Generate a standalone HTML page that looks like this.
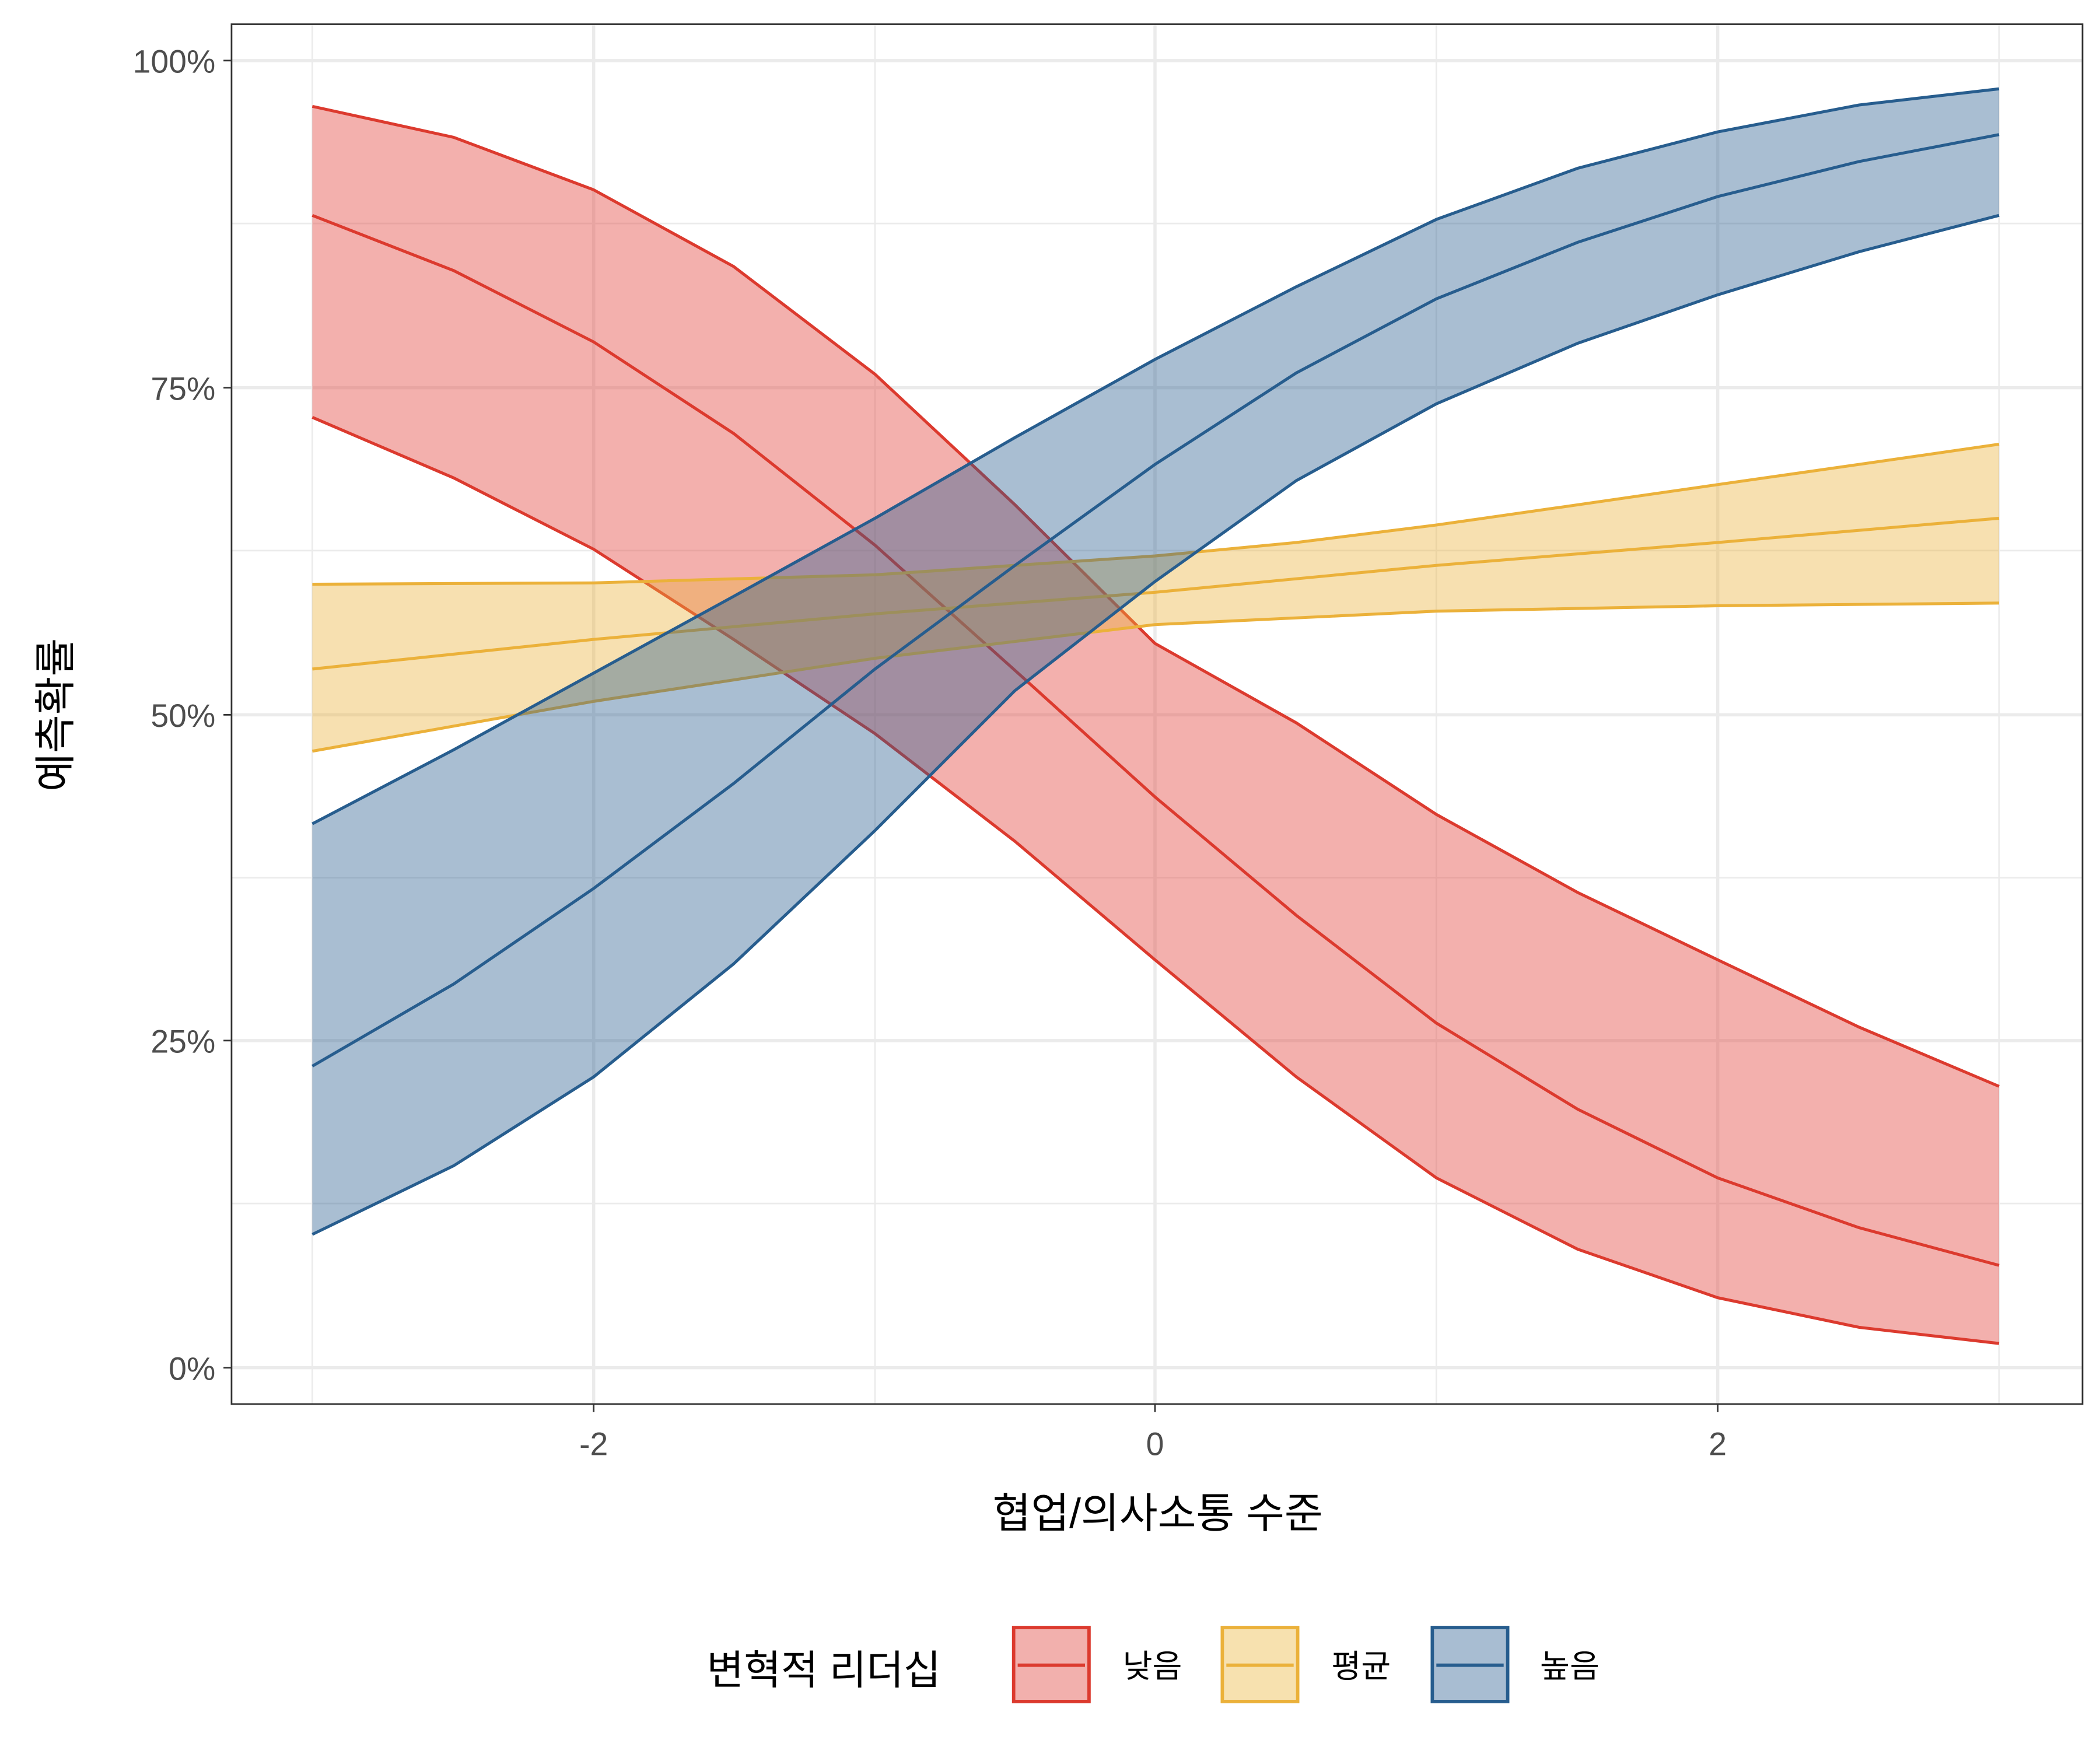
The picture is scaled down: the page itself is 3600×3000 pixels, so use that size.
<!DOCTYPE html>
<html><head><meta charset="utf-8"><style>html,body{margin:0;padding:0;background:#fff}svg{display:block}</style></head>
<body>
<svg width="3600" height="3000" viewBox="0 0 1560 1300" xmlns="http://www.w3.org/2000/svg" font-family="Liberation Sans, 'Noto Sans CJK KR', NanumGothic, sans-serif">
<rect width="1560" height="1300" fill="#fff"/>
<g stroke="#EBEBEB" stroke-width="1.2">
<line x1="172" x2="1547" y1="166" y2="166"/><line x1="172" x2="1547" y1="409" y2="409"/><line x1="172" x2="1547" y1="652" y2="652"/><line x1="172" x2="1547" y1="894" y2="894"/>
<line y1="18" y2="1043" x1="232" x2="232"/><line y1="18" y2="1043" x1="650" x2="650"/><line y1="18" y2="1043" x1="1067" x2="1067"/><line y1="18" y2="1043" x1="1485" x2="1485"/>
</g>
<g stroke="#EBEBEB" stroke-width="2.4">
<line x1="172" x2="1547" y1="45" y2="45"/><line x1="172" x2="1547" y1="288" y2="288"/><line x1="172" x2="1547" y1="531" y2="531"/><line x1="172" x2="1547" y1="773" y2="773"/><line x1="172" x2="1547" y1="1016" y2="1016"/>
<line y1="18" y2="1043" x1="441" x2="441"/><line y1="18" y2="1043" x1="858" x2="858"/><line y1="18" y2="1043" x1="1276" x2="1276"/>
</g>
<polygon fill="#E5504A" fill-opacity="0.45" points="232,79 337,102 441,141 545,198 650,278 754,375 858,478 963,537 1067,605 1172,663 1276,713 1381,763 1485,807 1485,998 1381,986 1276,964 1172,928 1067,875 963,800 858,713 754,625 650,545 545,475 441,408 337,355 232,310"/>
<g fill="none" stroke="#DC3A2E" stroke-width="2.2">
<polyline points="232,79 337,102 441,141 545,198 650,278 754,375 858,478 963,537 1067,605 1172,663 1276,713 1381,763 1485,807"/>
<polyline points="232,160 337,201 441,254 545,322 650,405 754,498 858,592 963,680 1067,760 1172,824 1276,875 1381,912 1485,940"/>
<polyline points="232,310 337,355 441,408 545,475 650,545 754,625 858,713 963,800 1067,875 1172,928 1276,964 1381,986 1485,998"/>
</g>
<polygon fill="#EBB13A" fill-opacity="0.4" points="232,434 441,433 650,427 858,413 963,403 1067,390 1172,375 1276,360 1381,345 1485,330 1485,448 1276,450 1067,454 963,459 858,464 650,489 441,521 232,558"/>
<g fill="none" stroke="#EBB13A" stroke-width="2.2">
<polyline points="232,434 441,433 650,427 858,413 963,403 1067,390 1172,375 1276,360 1381,345 1485,330"/>
<polyline points="232,497 441,475 650,456 858,440 1067,420 1276,403 1485,385"/>
<polyline points="232,558 441,521 650,489 858,464 963,459 1067,454 1276,450 1485,448"/>
</g>
<polygon fill="#275D8E" fill-opacity="0.4" points="232,612 337,557 441,500 545,443 650,385 754,325 858,267 963,213 1067,163 1172,125 1276,98 1381,78 1485,66 1485,160 1381,187 1276,219 1172,255 1067,300 963,357 858,432 754,513 650,617 545,716 441,800 337,866 232,917"/>
<g fill="none" stroke="#275D8E" stroke-width="2.2">
<polyline points="232,612 337,557 441,500 545,443 650,385 754,325 858,267 963,213 1067,163 1172,125 1276,98 1381,78 1485,66"/>
<polyline points="232,792 337,731 441,660 545,582 650,497 754,420 858,345 963,277 1067,222 1172,180 1276,146 1381,120 1485,100"/>
<polyline points="232,917 337,866 441,800 545,716 650,617 754,513 858,432 963,357 1067,300 1172,255 1276,219 1381,187 1485,160"/>
</g>
<rect x="172" y="18" width="1375" height="1025" fill="none" stroke="#333" stroke-width="1.2"/>
<g stroke="#333" stroke-width="1.2">
<line x1="166" x2="172" y1="45" y2="45"/><line x1="166" x2="172" y1="288" y2="288"/><line x1="166" x2="172" y1="531" y2="531"/><line x1="166" x2="172" y1="773" y2="773"/><line x1="166" x2="172" y1="1016" y2="1016"/>
<line x1="441" x2="441" y1="1043" y2="1049"/><line x1="858" x2="858" y1="1043" y2="1049"/><line x1="1276" x2="1276" y1="1043" y2="1049"/>
</g>
<g fill="#4D4D4D" font-size="24" text-anchor="end">
<text x="160" y="54">100%</text><text x="160" y="297">75%</text><text x="160" y="540">50%</text><text x="160" y="782">25%</text><text x="160" y="1025">0%</text>
</g>
<g fill="#4D4D4D" font-size="24" text-anchor="middle">
<text x="441" y="1081">-2</text><text x="858" y="1081">0</text><text x="1276" y="1081">2</text>
</g>
<text x="860" y="1135" font-size="31" text-anchor="middle" fill="#000">협업/의사소통 수준</text>
<text transform="translate(52,531) rotate(-90)" font-size="31" text-anchor="middle" fill="#000">예측확률</text>
<text x="525" y="1251" font-size="30" fill="#000">변혁적 리더십</text>
<rect x="753" y="1209" width="56" height="55" fill="#F2B0AD" stroke="#DC3A2E" stroke-width="2.5"/>
<line x1="756" x2="806" y1="1237" y2="1237" stroke="#DC3A2E" stroke-width="2.5"/>
<rect x="908" y="1209" width="56" height="55" fill="#F7E1AF" stroke="#EBB13A" stroke-width="2.5"/>
<line x1="911" x2="961" y1="1237" y2="1237" stroke="#EBB13A" stroke-width="2.5"/>
<rect x="1064" y="1209" width="56" height="55" fill="#A8BDD2" stroke="#275D8E" stroke-width="2.5"/>
<line x1="1067" x2="1117" y1="1237" y2="1237" stroke="#275D8E" stroke-width="2.5"/>
<g font-size="24" fill="#000"><text x="834" y="1246">낮음</text><text x="989" y="1246">평균</text><text x="1144" y="1246">높음</text></g>
</svg>
</body></html>
